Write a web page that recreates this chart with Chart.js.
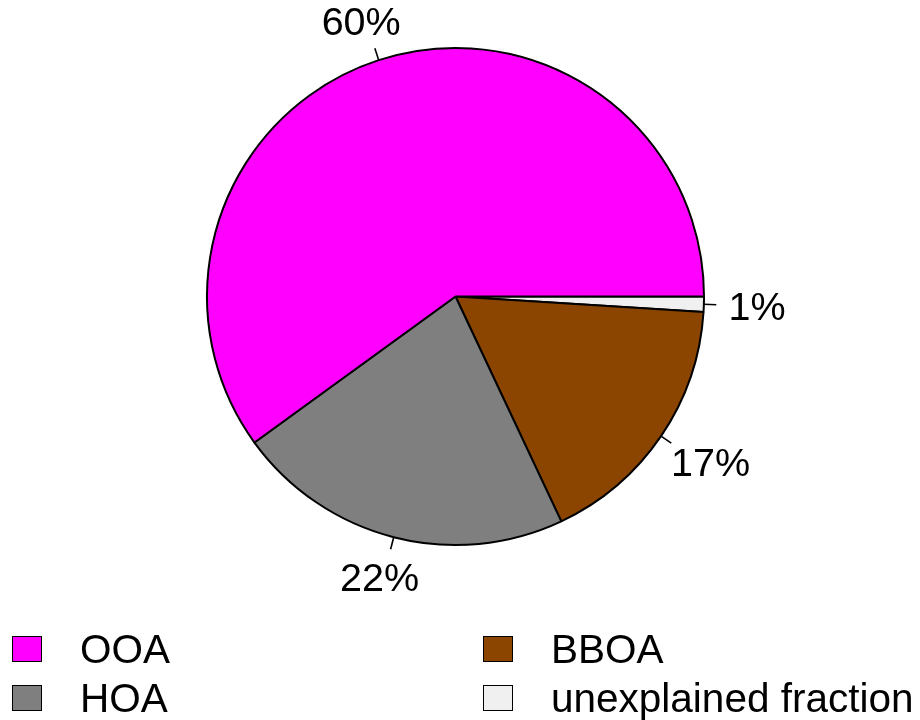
<!DOCTYPE html>
<html>
<head>
<meta charset="utf-8">
<script src="https://cdn.jsdelivr.net/npm/chart.js@4/dist/chart.umd.min.js"></script>
<style>
html,body{margin:0;padding:0;background:#fff;}
#wrap{position:relative;width:920px;height:720px;font-family:"Liberation Sans",Arial,Helvetica,sans-serif;}
#pie{position:absolute;left:0;top:0;}
.lg{position:absolute;display:flex;align-items:center;height:30px;font-size:40.5px;color:#000;white-space:nowrap;}
.lg i{display:inline-block;width:28px;height:24px;border:1.5px solid #000;margin-right:38px;}
</style>
</head>
<body>
<div id="wrap">
  <canvas id="pie" width="920" height="720"></canvas>
</div>
<script>
// source fractions, in percent (R pie order, counter-clockwise from 3 o'clock)
const labels=['OOA','HOA','BBOA','unexplained fraction'];
const shares=[60,22,17,1];
const colors=['#FF00FF','#7F7F7F','#8B4500','#F0F0F0'];

const FONT='"Liberation Sans", Arial, Helvetica, sans-serif';
const FS=39.5;

// Chart.js goes clockwise, so feed the slices in reverse
const rev=a=>a.slice().reverse();

// tick marks + percent labels just outside each slice
const outerLabels={
  id:'outerLabels',
  afterDatasetsDraw(chart){
    const ctx=chart.ctx;
    const meta=chart.getDatasetMeta(0);
    const vals=chart.data.datasets[0].data;
    ctx.save();
    ctx.strokeStyle='#000';ctx.lineWidth=1.6;
    ctx.fillStyle='#000';
    ctx.font=FS+'px '+FONT;
    ctx.textAlign='center';ctx.textBaseline='alphabetic';
    meta.data.forEach((arc,i)=>{
      const {x,y,startAngle,endAngle,outerRadius:r}=arc.getProps(['x','y','startAngle','endAngle','outerRadius'],true);
      const a=(startAngle+endAngle)/2,c=Math.cos(a),s=Math.sin(a);
      ctx.beginPath();
      ctx.moveTo(x+c*r,y+s*r);
      ctx.lineTo(x+c*r*1.05,y+s*r*1.05);
      ctx.stroke();
      const txt=vals[i]+'%';
      const w=ctx.measureText(txt).width,h=FS*0.716;
      // push the label box outward until its edge touches the anchor
      const cx=x+c*r*1.1+c*w/2-Math.abs(s)*c*8,cy=y+s*r*1.1+s*h/2+Math.abs(c)*s*8;
      ctx.fillText(txt,cx,cy+h/2);
    });
    ctx.restore();
  }
};

new Chart(document.getElementById('pie'),{
  type:'pie',
  data:{
    labels:rev(labels),
    datasets:[{data:rev(shares),backgroundColor:rev(colors),borderColor:'#000',borderWidth:2,hoverOffset:0}]
  },
  options:{
    responsive:false,
    animation:false,
    rotation:90,
    events:[],
    layout:{padding:{top:47,bottom:174,left:206,right:215}},
    plugins:{legend:{display:false},tooltip:{enabled:false}}
  },
  plugins:[outerLabels]
});

// two-column legend, filled column by column
const wrap=document.getElementById('wrap');
const colX=[12,483],rowY=[634,683];
labels.forEach((lab,i)=>{
  const d=document.createElement('div');
  d.className='lg';
  d.style.left=colX[Math.floor(i/2)]+'px';
  d.style.top=rowY[i%2]+'px';
  d.innerHTML='<i style="background:'+colors[i]+'"></i>'+lab;
  wrap.appendChild(d);
});
</script>
</body>
</html>
